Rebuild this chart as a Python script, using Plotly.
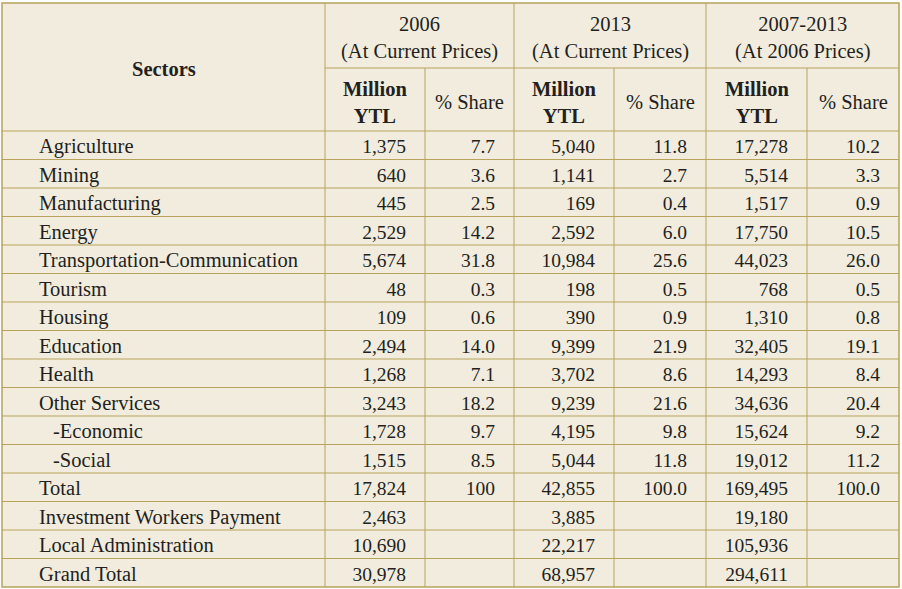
import plotly.graph_objects as go

# Investment by sector table

sectors = ["Agriculture", "Mining", "Manufacturing", "Energy",
           "Transportation-Communication", "Tourism", "Housing", "Education",
           "Health", "Other Services", "-Economic", "-Social", "Total",
           "Investment Workers Payment", "Local Administration", "Grand Total"]

mil_2006 = [1375, 640, 445, 2529, 5674, 48, 109, 2494, 1268, 3243, 1728, 1515,
            17824, 2463, 10690, 30978]
share_2006 = ["7.7", "3.6", "2.5", "14.2", "31.8", "0.3", "0.6", "14.0", "7.1",
              "18.2", "9.7", "8.5", "100", "", "", ""]

mil_2013 = [5040, 1141, 169, 2592, 10984, 198, 390, 9399, 3702, 9239, 4195, 5044,
            42855, 3885, 22217, 68957]
share_2013 = ["11.8", "2.7", "0.4", "6.0", "25.6", "0.5", "0.9", "21.9", "8.6",
              "21.6", "9.8", "11.8", "100.0", "", "", ""]

mil_0713 = [17278, 5514, 1517, 17750, 44023, 768, 1310, 32405, 14293, 34636,
            15624, 19012, 169495, 19180, 105936, 294611]
share_0713 = ["10.2", "3.3", "0.9", "10.5", "26.0", "0.5", "0.8", "19.1", "8.4",
              "20.4", "9.2", "11.2", "100.0", "", "", ""]

group_titles = ["2006<br>(At Current Prices)", "2013<br>(At Current Prices)",
                "2007-2013<br>(At 2006 Prices)"]

# layout of the grid (pixels)
col_edges = [2, 325, 425, 514, 614, 706, 807, 899]
top, head_mid, head_bot, row_h = 3, 68, 131, 28.5
n_rows = len(sectors)
bottom = head_bot + n_rows * row_h

BG = "#F1ECDE"
LINE = "#B7A35A"
INK = "#231F20"
FONT = "Liberation Serif"
FS = 20.5
FS_NUM = 19.5

# text sits a little below the geometric row centre
row_y = [head_bot + row_h * (i + 0.5) + 3 for i in range(n_rows)]

fig = go.Figure()

# grid lines
shapes = [dict(type="rect", x0=col_edges[0], x1=col_edges[-1], y0=top, y1=bottom,
               fillcolor=BG, line=dict(color=LINE, width=1.5), layer="below")]
for i in range(1, n_rows):
    y = head_bot + i * row_h
    shapes.append(dict(type="line", x0=col_edges[0], x1=col_edges[-1], y0=y, y1=y,
                       line=dict(color=LINE, width=1)))
shapes.append(dict(type="line", x0=col_edges[0], x1=col_edges[-1], y0=head_bot,
                   y1=head_bot, line=dict(color=LINE, width=1.2)))
shapes.append(dict(type="line", x0=col_edges[1], x1=col_edges[-1], y0=head_mid,
                   y1=head_mid, line=dict(color=LINE, width=1)))
for k, x in enumerate(col_edges[1:-1], start=1):
    y0 = top if k % 2 == 1 else head_mid
    shapes.append(dict(type="line", x0=x, x1=x, y0=y0, y1=bottom,
                       line=dict(color=LINE, width=1)))

# sector labels
label_x = [53 if s.startswith("-") else 39 for s in sectors]
fig.add_trace(go.Scatter(x=label_x, y=row_y, text=sectors, mode="text",
                         textposition="middle right",
                         textfont=dict(family=FONT, size=FS, color=INK),
                         hoverinfo="skip"))

# numeric columns, right aligned
columns = [[f"{v:,}" for v in mil_2006], share_2006,
           [f"{v:,}" for v in mil_2013], share_2013,
           [f"{v:,}" for v in mil_0713], share_0713]
for c, vals in enumerate(columns):
    xr = col_edges[c + 2] - 19
    fig.add_trace(go.Scatter(x=[xr] * n_rows, y=row_y, text=vals, mode="text",
                             textposition="middle left",
                             textfont=dict(family=FONT, size=FS_NUM, color=INK),
                             hoverinfo="skip"))

# header text
annotations = [dict(x=(col_edges[0] + col_edges[1]) / 2, y=(top + head_bot) / 2 + 2,
                    text="<b>Sectors</b>", showarrow=False)]
for g, title in enumerate(group_titles):
    xc = (col_edges[1 + 2 * g] + col_edges[3 + 2 * g]) / 2
    annotations.append(dict(x=xc, y=(top + head_mid) / 2 + 2.5, text=title,
                            showarrow=False))
    annotations.append(dict(x=(col_edges[1 + 2 * g] + col_edges[2 + 2 * g]) / 2,
                            y=(head_mid + head_bot) / 2 + 2.5,
                            text="<b>Million<br>YTL</b>", showarrow=False))
    annotations.append(dict(x=(col_edges[2 + 2 * g] + col_edges[3 + 2 * g]) / 2,
                            y=(head_mid + head_bot) / 2 + 2, text="% Share",
                            showarrow=False))
for a in annotations:
    a["font"] = dict(family=FONT, size=FS, color=INK)
    a["xref"] = "x"
    a["yref"] = "y"

fig.update_layout(
    width=902, height=589,
    margin=dict(l=0, r=0, t=0, b=0),
    paper_bgcolor="white", plot_bgcolor="white",
    showlegend=False,
    shapes=shapes,
    annotations=annotations,
    xaxis=dict(range=[0, 902], visible=False, fixedrange=True),
    yaxis=dict(range=[589, 0], visible=False, fixedrange=True),
)

fig.write_html("out.html", config={"displayModeBar": False},
               post_script="document.body.style.margin='0';")
